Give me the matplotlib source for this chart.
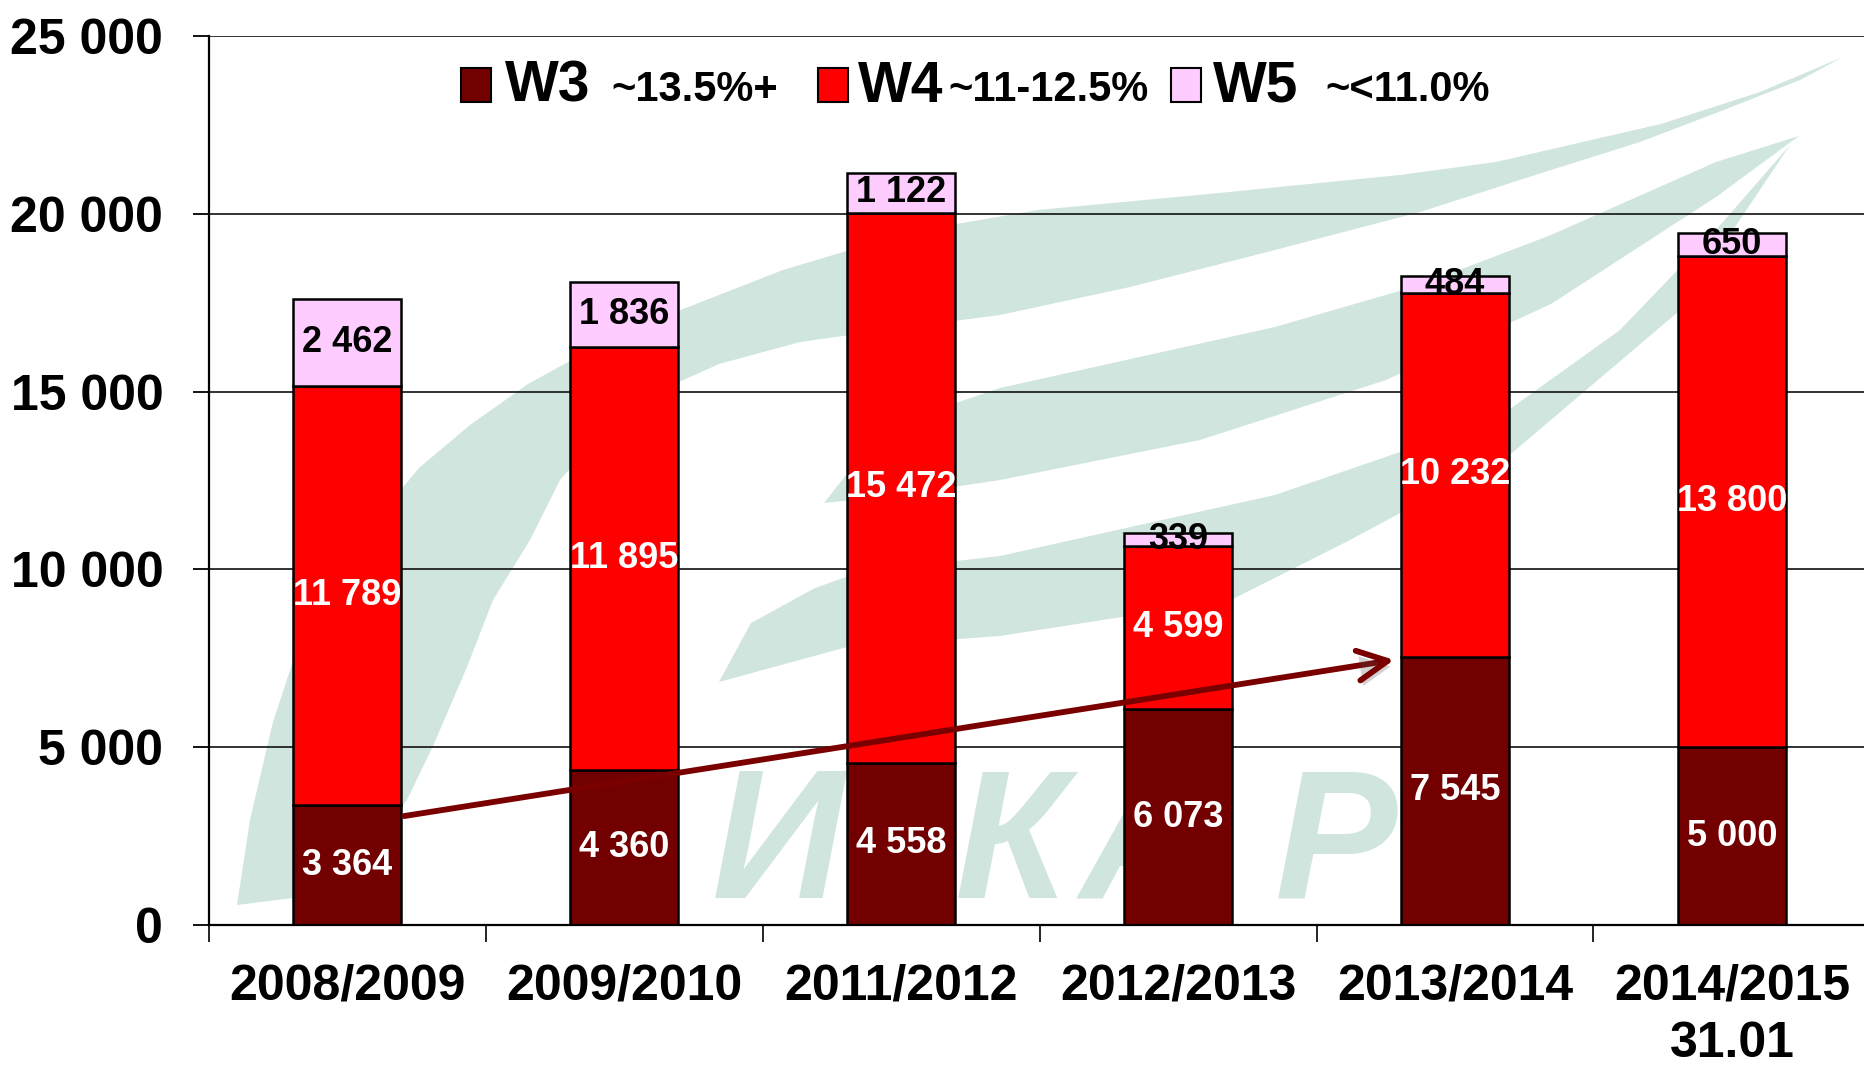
import numpy as np
import matplotlib
matplotlib.use("Agg")
import matplotlib.pyplot as plt
import matplotlib.patheffects as pe
from matplotlib.patches import Polygon, Rectangle
from matplotlib.ticker import FuncFormatter

# data (thousand tonnes by wheat class)
seasons = ["2008/2009", "2009/2010", "2011/2012", "2012/2013", "2013/2014", "2014/2015\n31.01"]
w3 = [3364, 4360, 4558, 6073, 7545, 5000]
w4 = [11789, 11895, 15472, 4599, 10232, 13800]
w5 = [2462, 1836, 1122, 339, 484, 650]
grades = ["W3", "W4", "W5"]
protein = ["~13.5%+", "~11-12.5%", "~<11.0%"]
colors = ["#720000", "#ff0000", "#ffccff"]
label_colors = ["white", "white", "black"]

W, H = 1864, 1065
plt.rcParams["font.family"] = ["Liberation Sans", "DejaVu Sans"]
plt.rcParams["font.weight"] = "bold"
MARK = "#cfe5de"


def fig_xy(pts):
    a = np.asarray(pts, dtype=float)
    return np.column_stack([a[:, 0] / W, 1 - a[:, 1] / H])


def fmt(v):
    return f"{int(round(v)):,}".replace(",", " ")


fig = plt.figure(figsize=(W / 100, H / 100), dpi=100)
ax = fig.add_axes([209 / W, 1 - 925 / H, 1 - 209 / W, (925 - 36) / H])
ax.set_facecolor("none")

# --- faint company logo in the background (pixel outlines) ---
band_a = [(237, 905), (250, 820), (273, 722), (300, 640), (337, 573), (380, 515), (419, 468),
          (470, 425), (528, 384), (590, 350), (655, 320), (783, 270), (910, 232), (1038, 210),
          (1209, 194), (1400, 175), (1496, 162), (1600, 138), (1661, 124), (1760, 92), (1843, 57),
          (1800, 80), (1716, 113), (1640, 142), (1551, 170), (1420, 212), (1275, 250), (1130, 287),
          (1000, 315), (900, 328), (800, 342), (719, 364), (650, 395), (600, 435), (560, 480),
          (530, 540), (493, 600), (467, 667), (433, 746), (407, 800), (370, 850), (330, 880),
          (293, 898)]
band_b = [(824, 503), (850, 470), (900, 428), (950, 405), (1000, 388), (1275, 327), (1420, 285),
          (1551, 235), (1716, 162), (1799, 136), (1716, 197), (1551, 304), (1386, 380),
          (1200, 440), (1000, 480), (900, 495)]
band_c = [(719, 682), (751, 623), (815, 588), (860, 572), (1000, 556), (1275, 495), (1496, 419),
          (1620, 330), (1716, 230), (1790, 145), (1678, 312), (1512, 453), (1350, 540),
          (1231, 600), (1000, 636), (847, 647)]
for band in (band_a, band_b, band_c):
    ax.add_patch(Polygon(fig_xy(band), closed=True, transform=fig.transFigure,
                         facecolor=MARK, edgecolor="none", zorder=0.2))
for ch, px in zip("ИКАР", [712, 955, 1080, 1275]):
    ax.text(px / W, 1 - 898 / H, ch, transform=fig.transFigure, fontsize=132,
            style="italic", weight="bold", color=MARK, ha="left", va="baseline",
            zorder=0.3, family=["Liberation Sans", "DejaVu Sans"])

# --- stacked bars ---
x = np.arange(len(seasons))
width = 0.39
bottom = np.zeros(len(seasons))
for vals, col, lc in zip([w3, w4, w5], colors, label_colors):
    vals = np.asarray(vals, dtype=float)
    ax.bar(x, vals, width, bottom=bottom, color=col, edgecolor="black", linewidth=1.8, zorder=2)
    for xi, b, v in zip(x, bottom, vals):
        ax.text(xi, b + v / 2, fmt(v), ha="center", va="center", color=lc,
                fontsize=26, weight="bold", zorder=4)
    bottom += vals

# growth arrow from the first W3 bar to the 2013/2014 W3 bar
ax.annotate("", xy=(4 - width / 2 - 0.025, w3[4] - 90), xytext=(width / 2 + 0.01, w3[0] - 300),
            arrowprops=dict(arrowstyle="->", color="#7a0000", lw=4.2, mutation_scale=54,
                            shrinkA=0, shrinkB=0,
                            path_effects=[pe.SimplePatchShadow(offset=(2, -4), alpha=0.25),
                                          pe.Normal()]),
            zorder=5)

# --- axes styling ---
ax.set_xlim(-0.5, 5.477)
ax.set_ylim(0, 25000)
ax.set_yticks(np.arange(0, 25001, 5000))
ax.yaxis.set_major_formatter(FuncFormatter(lambda v, p: fmt(v)))
ax.yaxis.grid(True, color="#222222", linewidth=1.3)
ax.set_axisbelow(True)
ax.tick_params(axis="y", length=11.5, width=1.3, pad=21.5, labelsize=36)

ax.set_xticks(x)
ax.set_xticklabels(seasons)
ax.set_xticks(np.arange(-0.5, 5.5, 1), minor=True)
ax.tick_params(axis="x", which="major", length=0, pad=28, labelsize=36)
ax.tick_params(axis="x", which="minor", length=12, width=1.2)
for lbl in ax.get_xticklabels():
    lbl.set_linespacing(1.3)

for s in ["top", "right"]:
    ax.spines[s].set_visible(False)
ax.spines["left"].set_linewidth(1.6)
ax.spines["bottom"].set_linewidth(1.6)

# --- legend (hand placed: grade name large, protein band smaller) ---
sq_x = [461, 818, 1171]
name_x = [505, 858, 1213]
prot_x = [611, 948, 1325]
for col, g, p, sx, nx, qx in zip(colors, grades, protein, sq_x, name_x, prot_x):
    fig.patches.append(Rectangle((sx / W, 1 - 102 / H), 30 / W, 34 / H, transform=fig.transFigure,
                                 facecolor=col, edgecolor="black", linewidth=1.5, zorder=6))
    fig.text(nx / W, 1 - 102 / H, g, fontsize=41, weight="bold", va="baseline", ha="left")
    fig.text(qx / W, 1 - 101 / H, p, fontsize=30, weight="bold", va="baseline", ha="left")

fig.savefig("out.png", dpi=100)
